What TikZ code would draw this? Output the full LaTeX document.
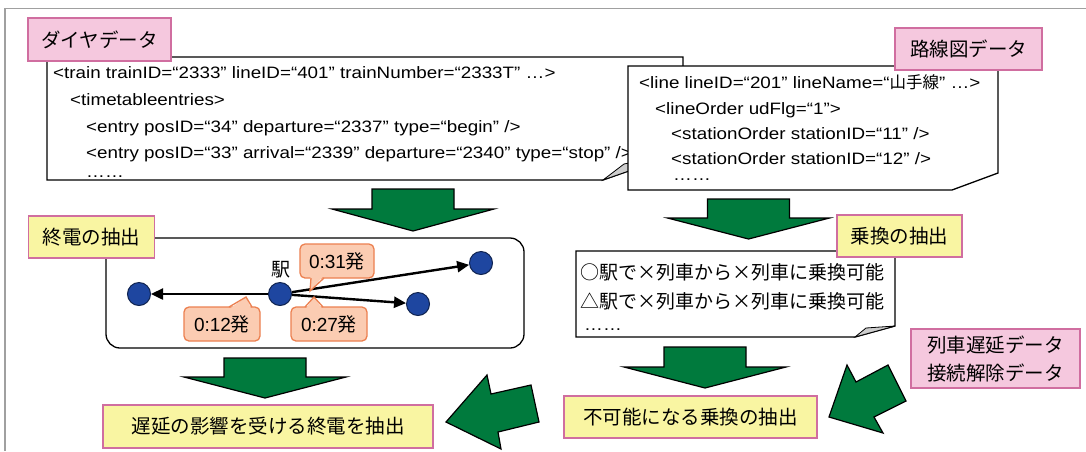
\documentclass[tikz,border=0pt]{standalone}
\usepackage{fontspec}
\setmainfont{Liberation Sans}
\newfontfamily\xmlfont{Liberation Sans}[FakeStretch=1.14]
\newfontfamily\jp{Noto Sans CJK JP}
\usetikzlibrary{arrows.meta}
\definecolor{pinkfill}{RGB}{245,200,222}
\definecolor{lblborder}{RGB}{208,110,160}
\definecolor{yellowfill}{RGB}{249,245,162}
\definecolor{arrowgreen}{RGB}{0,122,61}
\definecolor{nodeblue}{RGB}{30,70,160}
\definecolor{nodeedge}{RGB}{15,35,80}
\definecolor{callfill}{RGB}{251,204,178}
\definecolor{calledge}{RGB}{236,128,80}
\definecolor{framegray}{RGB}{160,160,160}
\definecolor{foldgray}{RGB}{205,205,205}
\newcommand\greendown[4]{%
  \draw[garrow] (#1-41,#2) -- (#1+41,#2) -- (#1+41,#3) -- (#1+81,#3) -- (#1,#4) -- (#1-81,#3) -- (#1-41,#3) -- cycle;}
\begin{document}
\begin{tikzpicture}[x=1pt,y=-1pt,
  docbox/.style={draw=black, fill=white, line width=1.3pt, line join=miter},
  fold/.style={fill=foldgray, draw=black, line width=0.8pt, line join=miter},
  xml/.style={anchor=base west, inner sep=0pt, font=\xmlfont\fontsize{16.5}{20}\selectfont},
  jpline/.style={anchor=base west, inner sep=0pt, font=\jp\fontsize{19}{23}\selectfont},
  lbl/.style={draw=lblborder, line width=1.6pt, inner sep=0pt, font=\jp\fontsize{19.5}{28}\selectfont},
  pinklbl/.style={lbl, fill=pinkfill},
  yellowlbl/.style={lbl, fill=yellowfill},
  garrow/.style={draw=black, fill=arrowgreen, line width=1.2pt, line join=miter},
  stn/.style={circle, draw=nodeedge, fill=nodeblue, line width=1pt, minimum size=23pt, inner sep=0pt},
  link/.style={line width=2.4pt, -{Triangle[length=12pt,width=11pt]}},
  callbox/.style={draw=calledge, fill=callfill, line width=1.3pt, rounded corners=5pt},
  calltext/.style={inner sep=0pt, font=\fontsize{19}{22}\selectfont},
]
\useasboundingbox (0,0) rectangle (1086,451);
\fill[white] (0,0) rectangle (1086,451);
\draw[framegray, line width=1.5pt] (5,451) -- (5,8.5) -- (1086,8.5);

% ---- dia data document
\draw[docbox] (47,57) -- (683,57) -- (683,152) -- (603,180) -- (47,180) -- cycle;
\draw[fold] (603,180) -- (624,164) -- (683,152) -- cycle;
\node[xml] (d1) at (53,78) {<train trainID=“2333” lineID=“401” trainNumber=“2333T” …>};
\node[xml] (d2) at (70,105) {<timetableentries>};
\node[xml] (d3) at (86,132) {<entry posID=“34” departure=“2337” type=“begin” />};
\node[xml] (d4) at (86,158) {<entry posID=“33” arrival=“2339” departure=“2340” type=“stop” />};
\node[xml] (d5) at (86,177) {……};
\node[pinklbl, minimum width=143pt, minimum height=43pt] (dialbl) at (99.5,39.5) {ダイヤデータ};

% ---- route data document
\draw[docbox] (628,66) -- (998,66) -- (998,173) -- (952,190) -- (628,190) -- cycle;
\node[xml] (r1) at (639,88) {<line lineID=“201” lineName=“{\jp 山手線}” …>};
\node[xml] (r2) at (655,114) {<lineOrder udFlg=“1”>};
\node[xml] (r3) at (671,139) {<stationOrder stationID=“11” />};
\node[xml] (r4) at (671,164) {<stationOrder stationID=“12” />};
\node[xml] (r5) at (673,180) {……};
\node[pinklbl, minimum width=147pt, minimum height=42pt] (rtlbl) at (968.5,49) {路線図データ};

% ---- green arrows
\greendown{413}{189}{209}{231}
\greendown{748.5}{199}{218}{239}
\greendown{265}{358}{377}{398}
\greendown{705}{347}{367}{388}
\draw[garrow] (446,422) -- (487,375) -- (491,394) -- (531,385) -- (539,422) -- (498,432) -- (501,449) -- cycle;
\draw[garrow] (829,417) -- (847,365) -- (856,382) -- (888,365) -- (906,401) -- (874,417) -- (883,433) -- cycle;

% ---- last train extraction
\draw[docbox, rounded corners=14pt] (106,238) rectangle (524,348);
\node[yellowlbl, minimum width=126pt, minimum height=42pt] (lastlbl) at (91.5,237) {終電の抽出};
\node[stn] (A) at (139,294) {};
\node[stn] (S) at (280,294) {};
\node[stn] (B) at (481,263) {};
\node[stn] (C) at (418,304) {};
\node[inner sep=0pt, font=\jp\fontsize{19}{22}\selectfont] (eki) at (281,270) {駅};
\draw[link] (S) -- (A);
\draw[link] (S) -- (B);
\draw[link] (S) -- (C);

\draw[callbox] (300,244) rectangle (374,278);
\fill[callfill] (310.5,276.5) -- (310,291) -- (323,276.5) -- cycle;
\draw[calledge, line width=1.3pt, line join=miter] (311,278) -- (310,291) -- (324,278);
\node[calltext] (c31) at (337,261) {0:31{\jp 発}};

\draw[callbox] (184,307) rectangle (260,341);
\fill[callfill] (230,308.5) -- (246,297) -- (251,308.5) -- cycle;
\draw[calledge, line width=1.3pt, line join=miter] (229,307) -- (246,297) -- (252,307);
\node[calltext] (c12) at (222,324) {0:12{\jp 発}};

\draw[callbox] (291,307) rectangle (367,341);
\fill[callfill] (306,308.5) -- (314,297) -- (322,308.5) -- cycle;
\draw[calledge, line width=1.3pt, line join=miter] (305,307) -- (314,297) -- (323,307);
\node[calltext] (c27) at (329,324) {0:27{\jp 発}};

\node[yellowlbl, minimum width=330pt, minimum height=43pt] (affect) at (268,426.5) {遅延の影響を受ける終電を抽出};

% ---- transfer extraction
\draw[docbox] (576,251) -- (895,251) -- (895,326) -- (855,337) -- (576,337) -- cycle;
\draw[fold] (855,337) -- (866,328) -- (895,326) -- cycle;
\node[jpline] (t1) at (580,279) {○駅で×列車から×列車に乗換可能};
\node[jpline] (t2) at (580,308) {△駅で×列車から×列車に乗換可能};
\node[xml] (t3) at (584,330) {……};
\node[yellowlbl, minimum width=125pt, minimum height=42pt] (xferlbl) at (899.5,236) {乗換の抽出};

\node[pinklbl, minimum width=169pt, minimum height=59pt, align=left] (delay) at (995.5,358.5) {列車遅延データ\\接続解除データ};
\node[yellowlbl, minimum width=253pt, minimum height=42pt] (imposs) at (690.5,417) {不可能になる乗換の抽出};
\end{tikzpicture}
\end{document}
